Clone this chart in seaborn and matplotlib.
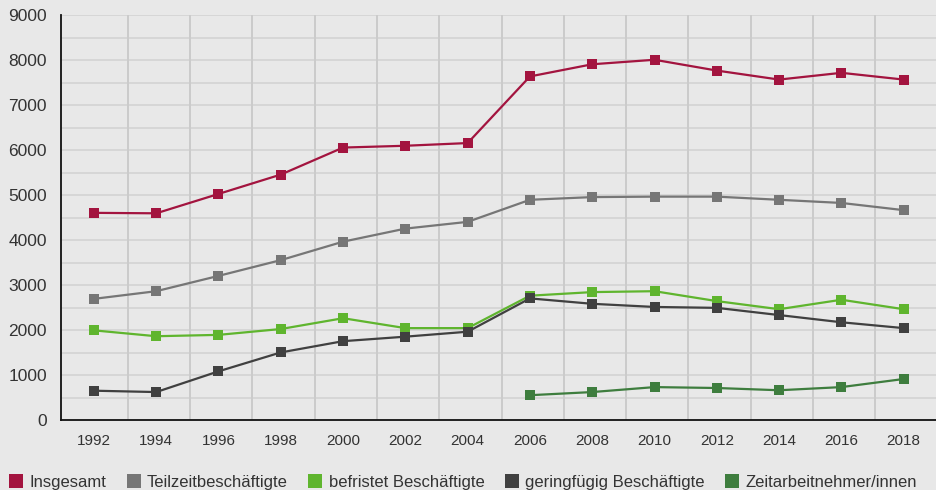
import numpy as np
import pandas as pd
import matplotlib
matplotlib.use("Agg")
import matplotlib.pyplot as plt
import seaborn as sns
from matplotlib.lines import Line2D

years = [1992, 1994, 1996, 1998, 2000, 2002, 2004, 2006, 2008, 2010, 2012, 2014, 2016, 2018]
insgesamt = [4610, 4600, 5030, 5460, 6060, 6100, 6160, 7640, 7910, 8010, 7770, 7570, 7720, 7570]
teilzeit = [2700, 2870, 3210, 3560, 3970, 4260, 4410, 4900, 4960, 4970, 4970, 4900, 4830, 4670]
befristet = [2000, 1870, 1900, 2030, 2270, 2050, 2050, 2770, 2850, 2870, 2650, 2470, 2680, 2470]
geringfuegig = [660, 630, 1090, 1510, 1760, 1860, 1970, 2710, 2590, 2520, 2500, 2340, 2180, 2050]
zeit_years = [2006, 2008, 2010, 2012, 2014, 2016, 2018]
zeitarbeit = [560, 630, 740, 720, 670, 740, 920]

names = ["Insgesamt", "Teilzeitbeschäftigte", "befristet Beschäftigte",
         "geringfügig Beschäftigte", "Zeitarbeitnehmer/innen"]
colors = ["#a3143f", "#767676", "#5fb52e", "#404040", "#3e7d3e"]

rows = []
for name, yrs, vals in [(names[0], years, insgesamt), (names[1], years, teilzeit),
                        (names[2], years, befristet), (names[3], years, geringfuegig),
                        (names[4], zeit_years, zeitarbeit)]:
    for y, v in zip(yrs, vals):
        rows.append({"Jahr": y, "Wert": v, "Serie": name})
df = pd.DataFrame(rows)

sns.set_theme(style="white")
plt.rcParams['font.family'] = ['Liberation Sans', 'DejaVu Sans']

bg = "#e8e8e8"
txt = "#333333"
fig = plt.figure(figsize=(9.37, 4.90), dpi=100, facecolor=bg)
ax = fig.add_axes([0.065, 0.142, 0.935, 0.827])
ax.set_facecolor(bg)

# grid
for yv in np.arange(500, 9001, 500):
    ax.axhline(yv, color="#d6d6d6", lw=1.4, zorder=0)
for xv in years[:-1]:
    ax.axvline(xv + 1.09, color="#cbcbcb", lw=1.4, zorder=0)

sns.lineplot(data=df, x="Jahr", y="Wert", hue="Serie", hue_order=names,
             palette=colors, marker="s", markersize=6.5, markeredgewidth=0,
             linewidth=1.6, legend=False, ax=ax, zorder=3)

ax.set_xlim(1990.94, 2019.07)
ax.set_ylim(0, 9000)
ax.set_xticks(years)
ax.set_xticklabels([str(y) for y in years])
ax.set_yticks(np.arange(0, 9001, 1000))
ax.tick_params(axis="x", length=0, pad=10, labelsize=11, colors=txt)
ax.tick_params(axis="y", length=0, pad=10, labelsize=12.5, colors=txt)
ax.set_xlabel("")
ax.set_ylabel("")
for s in ["top", "right"]:
    ax.spines[s].set_visible(False)
for s in ["left", "bottom"]:
    ax.spines[s].set_color("#111111")
    ax.spines[s].set_linewidth(1.3)

handles = [Line2D([], [], ls="none", marker="s", markersize=10, color=c, markeredgewidth=0)
           for c in colors]
fig.legend(handles, names, loc="lower left", bbox_to_anchor=(-0.006, -0.03), ncol=5,
           frameon=False, fontsize=12, handlelength=0.8, handletextpad=0.4,
           columnspacing=1.25, labelcolor=txt)

fig.savefig("out.png", dpi=100, facecolor=bg)
